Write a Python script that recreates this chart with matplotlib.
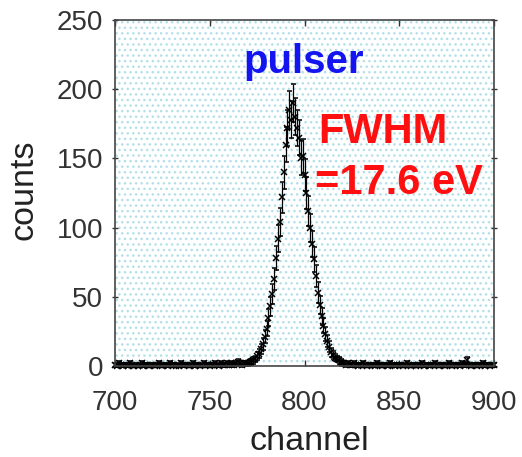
import numpy as np
import matplotlib
matplotlib.use("Agg")
import matplotlib.pyplot as plt
from matplotlib.patches import Rectangle

plt.rcParams['font.family'] = ['Liberation Sans', 'DejaVu Sans']
plt.rcParams['hatch.linewidth'] = 1.0
plt.rcParams['hatch.color'] = '#b3e0e8'

channels = np.arange(700, 901)
counts_left = [1,0,2,1,0,1,1,0,2,1, 0,1,0,1,2,0,1,1,0,1,
               1,0,1,2,1,0,1,1,0,2, 1,1,0,1,0,2,1,1,1,0,
               1,2,0,1,1,0,1,2,1,1, 0,1,1,2,1,0,2,1,1,2,
               1,2,1,1,2,3,2,1,2,2]                      # 700..769
counts_peak = [2,3,3,4,5,7,9,12,16,21, 27,35,43,52,63,78,92,104,122,140,
               160,172,185,178,190,180,172,165,150,152, 138,125,112,100,88,77,65,53,44,36,
               29,23,18,14,10,8,6,5,4,3, 2]              # 770..820
counts_right = [2,1,2,1,1,2,1,0,1,1, 2,1,0,1,1,1,0,2,1,1,
                0,1,1,0,2,1,1,0,1,1, 1,0,1,2,1,0,1,1,0,1,
                1,2,0,1,1,0,1,1,2,1, 0,1,1,0,1,2,1,0,1,1,
                1,0,2,1,1,4,1,0,1,1, 0,1,1,2,0,1,1,0,1,1]  # 821..900
counts = np.array(counts_left + counts_peak + counts_right, dtype=float)
errors = np.sqrt(counts + 1)

xticks = [700, 750, 800, 850, 900]
yticks = [0, 50, 100, 150, 200, 250]

fig = plt.figure(figsize=(5.22, 4.57), dpi=100)
ax = fig.add_axes([115/522, 1-366/457, 379/522, 346/457])
ax.set_facecolor('white')
bg = Rectangle((0, 0), 1, 1, transform=ax.transAxes, facecolor='white',
               edgecolor='#b3e0e8', hatch='...', linewidth=0, zorder=0)
ax.add_patch(bg)

ax.errorbar(channels, counts, yerr=errors, fmt='x', color='black', ms=5,
            mew=1.1, elinewidth=0.9, capsize=1.8, capthick=0.9, zorder=3,
            clip_on=False)

ax.set_xlim(700, 900)
ax.set_ylim(0, 250)
ax.set_xticks(xticks)
ax.set_yticks(yticks)
gray = '#333333'
for s in ax.spines.values():
    s.set_color('#444444')
    s.set_linewidth(1.2)
    s.set_zorder(4)
ax.tick_params(axis='x', direction='in', top=True, length=4, width=1,
               labelsize=20, colors=gray, pad=17)
ax.tick_params(axis='y', direction='inout', right=True, length=5, width=1,
               labelsize=20, colors=gray, pad=6)

ax.set_xlabel('channel', fontsize=24.5, color='#222222')
ax.set_ylabel('counts', fontsize=24.5, color='#222222')
ax.xaxis.set_label_coords(0.514, -0.172)
ax.yaxis.set_label_coords(-0.20, 0.51)

ax.text(767.5, 211.5, 'pulser', color='#1414f0', fontsize=29,
        fontweight='bold', ha='left', va='baseline', zorder=5)
ax.text(807, 161, 'FWHM', color='#ff1010', fontsize=30,
        fontweight='bold', ha='left', va='baseline', zorder=5)
ax.text(805.5, 124, '=17.6 eV', color='#ff1010', fontsize=30,
        fontweight='bold', ha='left', va='baseline', zorder=5)

fig.savefig('out.png', dpi=100)
